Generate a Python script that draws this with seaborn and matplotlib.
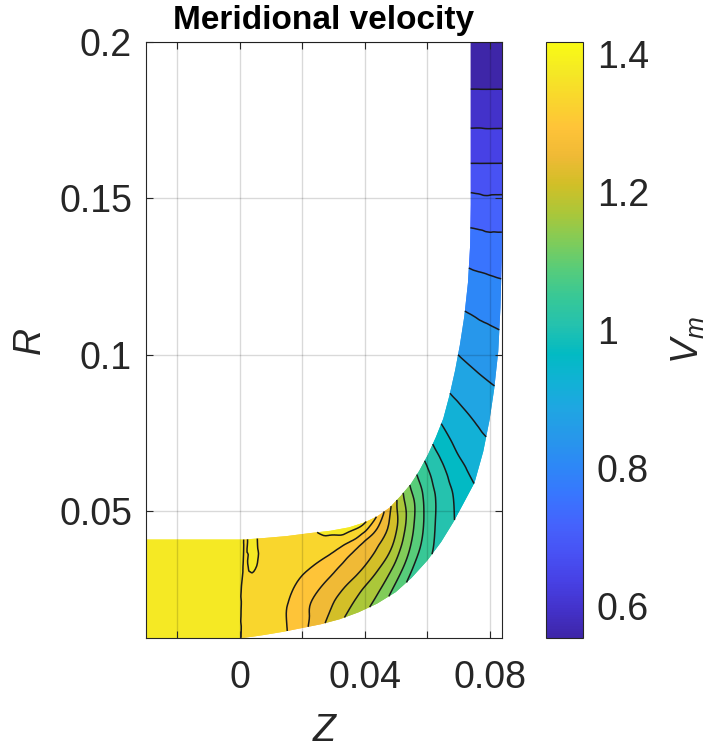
import numpy as np
import matplotlib
matplotlib.use("Agg")
import matplotlib.pyplot as plt
from matplotlib.colors import LinearSegmentedColormap, Normalize
from matplotlib.cm import ScalarMappable
from matplotlib.tri import Triangulation, UniformTriRefiner, CubicTriInterpolator
import seaborn as sns

# ---------------- data ----------------
# Quasi-orthogonal stations through the meridional channel: end points on the
# hub (lower/right wall) and on the shroud (upper/left wall).
z_hub = [-0.030, -0.001, 0.0015, 0.0040, 0.008, 0.014, 0.020, 0.026, 0.032, 0.038, 0.044,
         0.050, 0.055, 0.060, 0.0645, 0.0685, 0.0720, 0.0752, 0.0780, 0.0800, 0.0815,
         0.0828, 0.0835, 0.0839, 0.0840, 0.0840, 0.0840, 0.0840, 0.0840]
r_hub = [0.0093, 0.0093, 0.0094, 0.0097, 0.0103, 0.0113, 0.0125, 0.0137, 0.0153, 0.0175, 0.0203,
         0.0240, 0.0285, 0.0340, 0.0400, 0.0465, 0.0530, 0.0590, 0.0690, 0.0790, 0.0890,
         0.1010, 0.1150, 0.1300, 0.1460, 0.1610, 0.1750, 0.1880, 0.2000]
z_shroud = [-0.030, -0.001, 0.0015, 0.0040, 0.008, 0.015, 0.022, 0.029, 0.035, 0.040, 0.044,
            0.048, 0.0515, 0.0548, 0.0575, 0.0603, 0.0628, 0.0652, 0.0672, 0.0690, 0.0705,
            0.0719, 0.0731, 0.0738, 0.0740, 0.0740, 0.0740, 0.0740, 0.0740]
r_shroud = [0.0408, 0.0408, 0.0408, 0.0410, 0.0413, 0.0419, 0.0428, 0.0436, 0.0447, 0.0463, 0.0482,
            0.0510, 0.0547, 0.0586, 0.0628, 0.0680, 0.0735, 0.0795, 0.0870, 0.0950, 0.1030,
            0.1120, 0.1230, 0.1350, 0.1480, 0.1620, 0.1760, 0.1880, 0.2000]
span = [0.0, 0.25, 0.5, 0.75, 1.0]

# meridional velocity at hub, 25 %, 50 %, 75 % span and shroud of each station
vm_hub = [1.410, 1.410, 1.352, 1.351, 1.349, 1.340, 1.307, 1.262, 1.220, 1.189, 1.156,
          1.111, 1.077, 1.055, 1.033, 1.008, 0.984, 0.964, 0.936, 0.910, 0.885,
          0.858, 0.824, 0.785, 0.738, 0.678, 0.627, 0.586, 0.556]
vm_q1 = [1.410, 1.410, 1.352, 1.351, 1.350, 1.338, 1.305, 1.273, 1.244, 1.216, 1.192,
         1.158, 1.123, 1.083, 1.046, 1.020, 0.994, 0.963, 0.935, 0.907, 0.882,
         0.855, 0.822, 0.783, 0.736, 0.677, 0.626, 0.586, 0.556]
vm_mid = [1.410, 1.410, 1.356, 1.357, 1.353, 1.345, 1.326, 1.300, 1.276, 1.257, 1.233,
          1.204, 1.159, 1.108, 1.064, 1.031, 0.995, 0.960, 0.933, 0.905, 0.879,
          0.852, 0.820, 0.781, 0.733, 0.676, 0.625, 0.586, 0.556]
vm_q3 = [1.410, 1.410, 1.372, 1.386, 1.358, 1.352, 1.350, 1.338, 1.312, 1.287, 1.270,
         1.239, 1.185, 1.128, 1.077, 1.033, 0.995, 0.959, 0.930, 0.902, 0.876,
         0.850, 0.817, 0.779, 0.734, 0.675, 0.625, 0.586, 0.556]
vm_shroud = [1.410, 1.410, 1.374, 1.384, 1.360, 1.362, 1.370, 1.384, 1.392, 1.380, 1.332,
             1.261, 1.187, 1.124, 1.075, 1.031, 0.991, 0.956, 0.926, 0.899, 0.873,
             0.847, 0.815, 0.777, 0.734, 0.674, 0.624, 0.586, 0.556]

v_min, v_max = 0.554, 1.417
n_levels = 20

x_ticks = [-0.02, 0.0, 0.02, 0.04, 0.06, 0.08]
x_ticklabels = ["", "0", "", "0.04", "", "0.08"]
y_ticks = [0.05, 0.10, 0.15, 0.20]
y_ticklabels = ["0.05", "0.1", "0.15", "0.2"]
cb_ticks = [0.6, 0.8, 1.0, 1.2, 1.4]
cb_ticklabels = ["0.6", "0.8", "1", "1.2", "1.4"]
x_lim = (-0.030, 0.084)
y_lim = (0.0093, 0.2)

# ---------------- style ----------------
sns.set_theme(style="white")
plt.rcParams["font.family"] = ["Liberation Sans", "DejaVu Sans"]
plt.rcParams["mathtext.fontset"] = "custom"
plt.rcParams["mathtext.it"] = "Liberation Sans:italic"
plt.rcParams["mathtext.rm"] = "Liberation Sans"

parula_pts = [
    (0.2422, 0.1504, 0.6603), (0.2647, 0.1978, 0.7952), (0.2783, 0.2559, 0.8991),
    (0.2810, 0.3228, 0.9579), (0.2699, 0.3892, 0.9906), (0.2206, 0.4603, 0.9973),
    (0.1786, 0.5289, 0.9682), (0.1540, 0.5902, 0.9218), (0.1248, 0.6459, 0.8883),
    (0.0689, 0.6948, 0.8394), (0.0067, 0.7312, 0.7660), (0.1408, 0.7584, 0.6842),
    (0.2161, 0.7843, 0.5923), (0.3406, 0.8008, 0.4789), (0.5044, 0.7993, 0.3480),
    (0.6720, 0.7793, 0.2227), (0.8203, 0.7498, 0.1535), (0.9393, 0.7288, 0.2100),
    (0.9970, 0.7659, 0.2199), (0.9786, 0.8386, 0.1766), (0.9597, 0.9135, 0.1423),
    (0.9769, 0.9839, 0.0805)]
parula = LinearSegmentedColormap.from_list("parula", parula_pts, N=256)

axis_col = (0.15, 0.15, 0.15)
FS = 27

W, H = 716, 749
fig = plt.figure(figsize=(W / 100, H / 100), dpi=100)
ax = fig.add_axes([146 / W, 1 - 638 / H, 356 / W, 596 / H])
cax = fig.add_axes([546 / W, 1 - 638 / H, 37 / W, 596 / H])

# ---------------- field on the structured channel grid ----------------
zh, rh = np.array(z_hub), np.array(r_hub)
zs, rs = np.array(z_shroud), np.array(r_shroud)
s = np.array(span)
Zg = zh[:, None] + (zs - zh)[:, None] * s[None, :]
Rg = rh[:, None] + (rs - rh)[:, None] * s[None, :]
Vg = np.column_stack([vm_hub, vm_q1, vm_mid, vm_q3, vm_shroud])

ni, nj = Zg.shape
idx = np.arange(ni * nj).reshape(ni, nj)
tris = []
for i in range(ni - 1):
    for j in range(nj - 1):
        a, b, c, d = idx[i, j], idx[i + 1, j], idx[i + 1, j + 1], idx[i, j + 1]
        tris.append([a, b, c])
        tris.append([a, c, d])
tri = Triangulation(Zg.ravel(), Rg.ravel(), np.array(tris))
interp = CubicTriInterpolator(tri, Vg.ravel(), kind="geom")
tri_f, v_f = UniformTriRefiner(tri).refine_field(Vg.ravel(), triinterpolator=interp, subdiv=3)

levels = np.linspace(v_min, v_max, n_levels + 2)
fill_levels = np.concatenate([[0.0], levels[1:-1], [5.0]])
norm = Normalize(v_min, v_max)
band_colors = [parula(norm(lv)) for lv in levels[:-1]]

for _ in range(2):
    ax.tricontourf(tri_f, v_f, levels=fill_levels, colors=band_colors, antialiased=True)
ax.tricontour(tri_f, v_f, levels=levels[1:-1], colors="k", linewidths=1.1)

ax.set_xlim(*x_lim)
ax.set_ylim(*y_lim)
ax.set_xticks(x_ticks)
ax.set_xticklabels(x_ticklabels)
ax.set_yticks(y_ticks)
ax.set_yticklabels(y_ticklabels)
ax.set_axisbelow(False)
ax.grid(True, color="black", alpha=0.15, linewidth=1.0)
ax.tick_params(axis="x", direction="in", length=5, width=0.8, top=True, bottom=True,
               labelsize=FS, pad=16, colors=axis_col)
ax.tick_params(axis="y", direction="in", length=5, width=0.8, left=True, right=True,
               labelsize=FS, pad=10, colors=axis_col)
for sp in ax.spines.values():
    sp.set_color(axis_col)
    sp.set_linewidth(0.8)

ax.set_xlabel("Z", fontsize=FS, fontstyle="italic", color=axis_col, labelpad=12)
ax.set_ylabel("R", fontsize=FS, fontstyle="italic", color=axis_col, labelpad=8)
ax.set_title("Meridional velocity", fontsize=24, fontweight="bold", color="black", pad=9)

# ---------------- colorbar ----------------
sm = ScalarMappable(norm=norm, cmap=parula)
cb = fig.colorbar(sm, cax=cax)
cb.set_ticks(cb_ticks)
cb.set_ticklabels(cb_ticklabels)
cax.tick_params(direction="in", length=5, width=0.8, labelsize=FS, pad=10, colors=axis_col)
cb.outline.set_edgecolor(axis_col)
cb.outline.set_linewidth(0.8)
cb.set_label(r"$V_m$", fontsize=FS, color=axis_col, labelpad=15)

fig.savefig("out.png", dpi=100)
